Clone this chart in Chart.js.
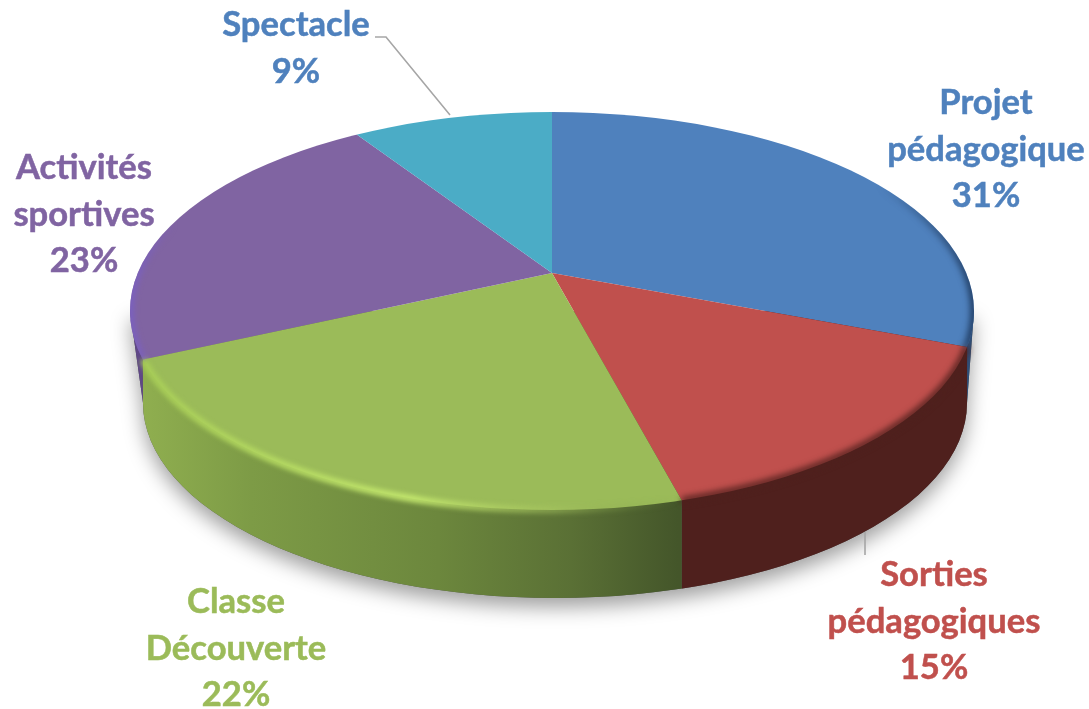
<!DOCTYPE html>
<html lang="fr">
<head>
<meta charset="utf-8">
<title>Répartition</title>
<style>
  html, body { margin: 0; padding: 0; background: #fff; }
  canvas { display: block; }
</style>
<script src="https://cdn.jsdelivr.net/npm/chart.js@4/dist/chart.umd.js"></script>
</head>
<body>
<canvas id="pie3d" width="1089" height="709"></canvas>
<script>
const categories = ['Projet pédagogique', 'Sorties pédagogiques', 'Classe Découverte', 'Activités sportives', 'Spectacle'];
const shares = [31, 15, 22, 23, 9];
const sliceColors = ['#4f81bd', '#c0504d', '#9bbb59', '#8064a2', '#4bacc6'];
const labelLines = [['Projet', 'pédagogique'], ['Sorties', 'pédagogiques'], ['Classe', 'Découverte'], ['Activités', 'sportives'], ['Spectacle']];

// page geometry of the tilted disc
const TILT = 0.45;
const APEX = { x: 552, y: 273 };
const TOP = { x: 552, y: 311, rx: 422, ry: 199 };
const BOTTOM = { x: 555, y: 403, rx: 412, ry: 195 };
const FONT = 'bold 34.6px Lato, "Open Sans", sans-serif';
const LABEL_POS = [
    { x: 986, y: 114 }, { x: 934, y: 586 }, { x: 236, y: 613 }, { x: 84, y: 179 }, { x: 296, y: 36 }
];
const LINE_GAP = 46.5;

// where a slice edge meets the rim of the top ellipse
function rimPoint(angle) {
    const dx = Math.cos(angle), dy = Math.sin(angle) * TILT;
    const ox = APEX.x - TOP.x, oy = APEX.y - TOP.y;
    const a = dx * dx / (TOP.rx * TOP.rx) + dy * dy / (TOP.ry * TOP.ry);
    const b = 2 * (ox * dx / (TOP.rx * TOP.rx) + oy * dy / (TOP.ry * TOP.ry));
    const c = ox * ox / (TOP.rx * TOP.rx) + oy * oy / (TOP.ry * TOP.ry) - 1;
    const t = (-b + Math.sqrt(b * b - 4 * a * c)) / (2 * a);
    const x = APEX.x + dx * t, y = APEX.y + dy * t;
    return { x, y, param: Math.atan2((y - TOP.y) / TOP.ry, (x - TOP.x) / TOP.rx) };
}

function wallRange(arc) {
    const start = rimPoint(arc.startAngle), end = rimPoint(arc.endAngle);
    const startLow = start.y > TOP.y, endLow = end.y > TOP.y;
    if (startLow && endLow) return [end.x, start.x];
    if (!startLow && endLow) return [end.x, 2000];
    if (startLow && !endLow) return [-2000, start.x];
    return null;
}

function hullPath(ctx) {
    ctx.beginPath();
    ctx.moveTo(TOP.x - TOP.rx, TOP.y);
    ctx.lineTo(BOTTOM.x - BOTTOM.rx, BOTTOM.y);
    ctx.ellipse(BOTTOM.x, BOTTOM.y, BOTTOM.rx, BOTTOM.ry, 0, Math.PI, 0, true);
    ctx.lineTo(TOP.x + TOP.rx, TOP.y);
    ctx.closePath();
}

function wallFill(ctx, index) {
    if (index === 2) {
        const g = ctx.createLinearGradient(145, 0, 678, 0);
        g.addColorStop(0, '#8fae4f');
        g.addColorStop(0.2, '#7d9b46');
        g.addColorStop(0.55, '#6c873d');
        g.addColorStop(0.8, '#5a7035');
        g.addColorStop(1, '#44562a');
        return g;
    }
    return ['#2f4f78', '#4f201d', '#000', '#5f4787', '#000'][index];
}

// stroke along part of the top rim, softened
function rimStroke(ctx, arc, style, width, blur, inside) {
    const from = rimPoint(arc.startAngle).param, to = rimPoint(arc.endAngle).param;
    ctx.save();
    if (inside) {
        ctx.beginPath();
        ctx.ellipse(TOP.x, TOP.y, TOP.rx, TOP.ry, 0, 0, Math.PI * 2);
        ctx.clip();
    }
    ctx.filter = 'blur(' + blur + 'px)';
    ctx.strokeStyle = style;
    ctx.lineWidth = width;
    ctx.beginPath();
    ctx.ellipse(TOP.x, TOP.y, TOP.rx, TOP.ry, 0, from, to);
    ctx.stroke();
    ctx.restore();
}

const discPlugin = {
    id: 'disc3d',
    beforeDatasetsDraw(chart) {
        const ctx = chart.ctx;
        const arcs = chart.getDatasetMeta(0).data;

        // drop shadow under the disc
        ctx.save();
        ctx.shadowColor = 'rgba(0,0,0,0.38)';
        ctx.shadowBlur = 20;
        ctx.shadowOffsetY = 9;
        ctx.fillStyle = '#555';
        hullPath(ctx);
        ctx.fill();
        ctx.restore();

        // side wall of each slice
        arcs.forEach((arc, i) => {
            const range = wallRange(arc);
            if (!range) return;
            ctx.save();
            ctx.beginPath();
            ctx.rect(range[0], 0, range[1] - range[0], 709);
            ctx.clip();
            ctx.fillStyle = wallFill(ctx, i);
            hullPath(ctx);
            ctx.fill();
            ctx.restore();
        });

        // the slices themselves: clipped to the rim, squashed around the apex
        ctx.save();
        ctx.beginPath();
        ctx.ellipse(TOP.x, TOP.y, TOP.rx, TOP.ry, 0, 0, Math.PI * 2);
        ctx.clip();
        ctx.translate(APEX.x, APEX.y);
        ctx.scale(1, TILT);
        ctx.translate(-APEX.x, -APEX.y);
    },
    afterDatasetsDraw(chart) {
        const ctx = chart.ctx;
        ctx.restore();
        const arcs = chart.getDatasetMeta(0).data;

        // bevel
        const glow = ctx.createLinearGradient(145, 0, 678, 0);
        glow.addColorStop(0, 'rgba(170,208,88,0.9)');
        glow.addColorStop(0.5, 'rgba(196,232,110,1)');
        glow.addColorStop(0.78, 'rgba(165,195,95,0.5)');
        glow.addColorStop(1, 'rgba(120,150,70,0)');
        rimStroke(ctx, arcs[2], glow, 7, 2.4, false);

        rimStroke(ctx, arcs[1], '#4f201d', 6, 3, false);

        const blueEdge = ctx.createLinearGradient(880, 0, 975, 0);
        blueEdge.addColorStop(0, 'rgba(30,55,90,0)');
        blueEdge.addColorStop(0.8, 'rgba(30,55,90,0.75)');
        blueEdge.addColorStop(1, 'rgba(25,50,85,0.95)');
        rimStroke(ctx, arcs[0], blueEdge, 7, 3, true);

        const purpleEdge = ctx.createLinearGradient(130, 0, 175, 0);
        purpleEdge.addColorStop(0, 'rgba(122,96,190,0.95)');
        purpleEdge.addColorStop(1, 'rgba(122,96,190,0)');
        rimStroke(ctx, arcs[3], purpleEdge, 9, 2.5, true);

        // leader lines
        ctx.save();
        ctx.strokeStyle = '#a6a6a6';
        ctx.lineWidth = 1.6;
        ctx.beginPath();
        ctx.moveTo(375, 37);
        ctx.lineTo(386, 37);
        ctx.lineTo(450, 115);
        ctx.moveTo(865, 532);
        ctx.lineTo(865, 555);
        ctx.stroke();
        ctx.restore();

        // data labels, Spectacle uses the blue of Projet in the original
        ctx.save();
        ctx.font = FONT;
        ctx.textAlign = 'center';
        ctx.textBaseline = 'alphabetic';
        ctx.lineWidth = 0.5;
        categories.forEach((name, i) => {
            const lines = labelLines[i].concat(shares[i] + '%');
            const color = i === 4 ? sliceColors[0] : sliceColors[i];
            ctx.fillStyle = color;
            ctx.strokeStyle = color;
            lines.forEach((text, j) => {
                ctx.fillText(text, LABEL_POS[i].x, LABEL_POS[i].y + j * LINE_GAP);
                ctx.strokeText(text, LABEL_POS[i].x, LABEL_POS[i].y + j * LINE_GAP);
            });
        });
        ctx.restore();
    }
};

new Chart(document.getElementById('pie3d'), {
    type: 'pie',
    data: {
        labels: categories,
        datasets: [{
            data: shares,
            backgroundColor: sliceColors,
            borderWidth: 0,
            clip: false
        }]
    },
    options: {
        responsive: false,
        animation: false,
        radius: 640,
        layout: { padding: { left: 15, bottom: 163 } },
        plugins: {
            legend: { display: false },
            tooltip: { enabled: false }
        }
    },
    plugins: [discPlugin]
});
</script>
</body>
</html>
